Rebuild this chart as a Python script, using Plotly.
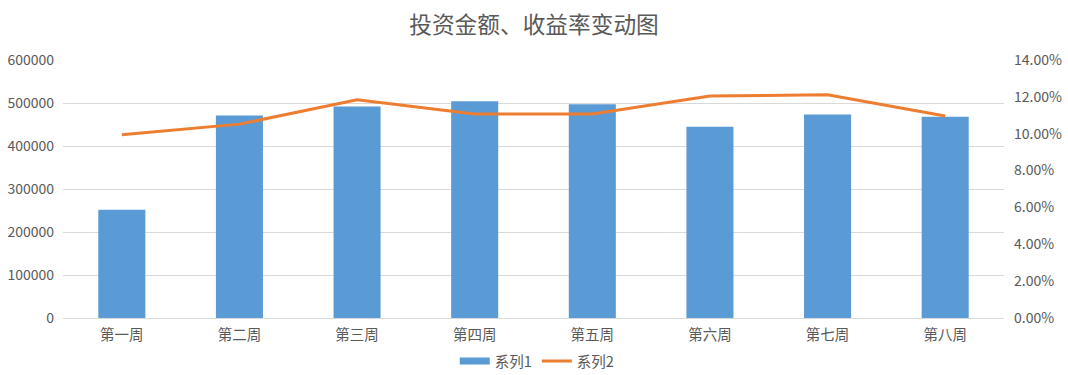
import plotly.graph_objects as go

categories = ["第一周", "第二周", "第三周", "第四周", "第五周", "第六周", "第七周", "第八周"]
investment = [252000, 471000, 492000, 504000, 497000, 445000, 473000, 468000]
yield_rate = [0.0995, 0.1052, 0.1184, 0.1107, 0.1107, 0.1204, 0.1211, 0.1096]

FONT = "Noto Sans CJK SC"
TXT = "#595959"
BLUE = "#5B9BD5"
ORANGE = "#ED7D31"

fig = go.Figure()
fig.add_trace(go.Bar(x=categories, y=investment, name="系列1", marker_color=BLUE,
                     marker_line_width=0, yaxis="y", showlegend=False, legendgroup="s1"))
# legend entry for series 1 drawn as a wide flat swatch like the reference
fig.add_trace(go.Scatter(x=[None], y=[None], name="系列1", mode="lines",
                         line=dict(color=BLUE, width=7), legendgroup="s1"))
fig.add_trace(go.Scatter(x=categories, y=yield_rate, name="系列2", mode="lines",
                         line=dict(color=ORANGE, width=3), yaxis="y2"))

fig.update_layout(
    width=1068, height=375,
    margin=dict(l=63, r=64, t=60, b=57, autoexpand=False),
    paper_bgcolor="white", plot_bgcolor="white",
    font=dict(family=FONT, size=13, color=TXT),
    title=dict(text="投资金额、收益率变动图", x=0.5, xanchor="center", y=0.933, yanchor="middle",
               font=dict(family=FONT, size=22.7, color=TXT)),
    bargap=0.6,
    showlegend=True,
    legend=dict(orientation="h", x=0.504, xanchor="center", y=-0.167, yanchor="middle",
                font=dict(size=14.5, color=TXT), itemwidth=30, traceorder="normal"),
    xaxis=dict(showgrid=False, showline=True, linecolor="#D9D9D9", ticks="", automargin=False,
               ticklabelstandoff=4, tickfont=dict(size=14.5, color=TXT)),
    yaxis=dict(range=[0, 600000], dtick=100000, showgrid=True, gridcolor="#D9D9D9",
               zeroline=False, tickformat="d", ticks="", automargin=False,
               ticklabelstandoff=8, tickfont=dict(size=14, color=TXT)),
    yaxis2=dict(range=[0, 0.14], dtick=0.02, overlaying="y", side="right", showgrid=False,
                zeroline=False, tickformat=".2%", ticks="", automargin=False,
                ticklabelstandoff=9, tickfont=dict(size=14, color=TXT)),
)

fig.write_html("out.html", config={"displayModeBar": False},
               post_script="document.body.style.margin='0px';")
